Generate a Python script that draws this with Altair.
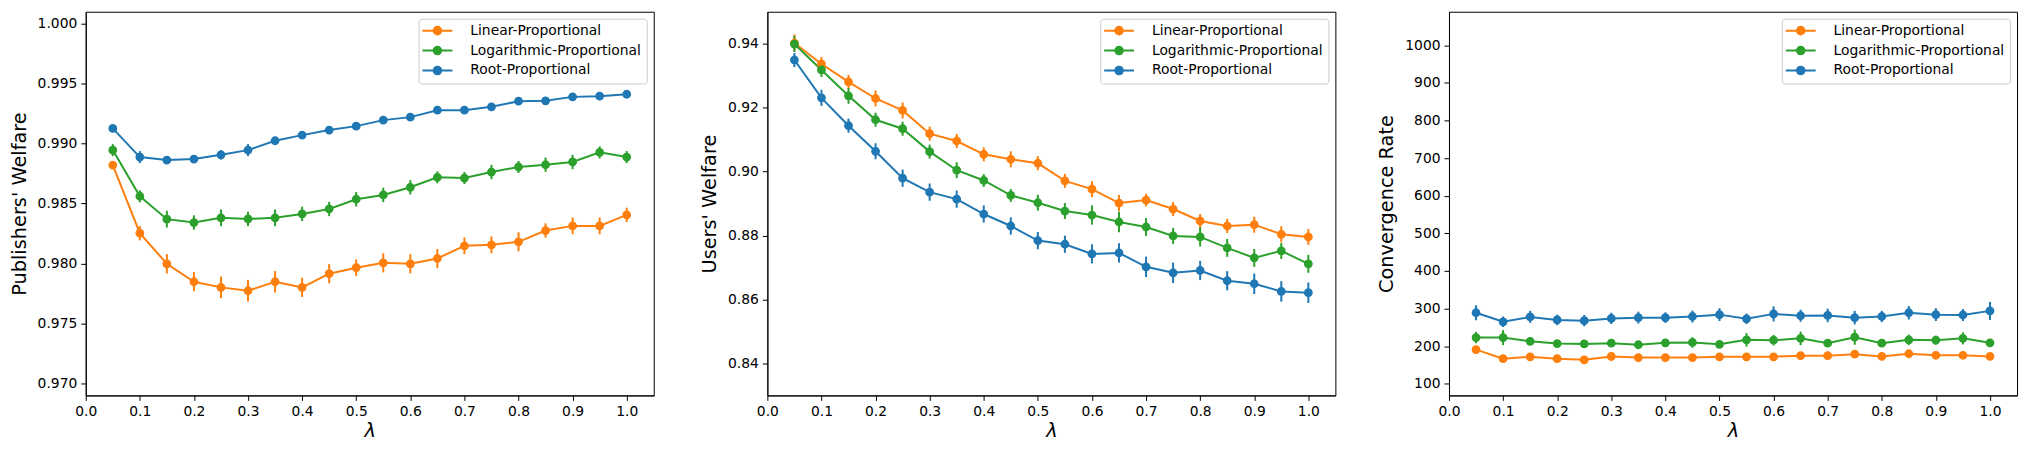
import altair as alt
import pandas as pd

lam = [0.05, 0.10, 0.15, 0.20, 0.25, 0.30, 0.35, 0.40, 0.45, 0.50,
       0.55, 0.60, 0.65, 0.70, 0.75, 0.80, 0.85, 0.90, 0.95, 1.00]
x_ticks = [0.0, 0.1, 0.2, 0.3, 0.4, 0.5, 0.6, 0.7, 0.8, 0.9, 1.0]
methods = ["Linear-Proportional", "Logarithmic-Proportional", "Root-Proportional"]
colors = ["#ff7f0e", "#2ca02c", "#1f77b4"]

# Panel 1: Publishers' Welfare
pub_linear = [0.98821, 0.98253, 0.97998, 0.97848, 0.97801, 0.97773, 0.97848, 0.97801, 0.97915, 0.97965,
              0.98006, 0.97998, 0.98042, 0.98148, 0.98156, 0.98181, 0.98275, 0.98314, 0.98314, 0.98406]
pub_log = [0.98946, 0.98561, 0.98370, 0.98342, 0.98381, 0.98372, 0.98381, 0.98414, 0.98455, 0.98536,
           0.98572, 0.98636, 0.98719, 0.98713, 0.98763, 0.98805, 0.98824, 0.98847, 0.98927, 0.98888]
pub_root = [0.99127, 0.98888, 0.98863, 0.98871, 0.98907, 0.98946, 0.99024, 0.99071, 0.99113, 0.99146,
            0.99196, 0.99221, 0.99279, 0.99279, 0.99307, 0.99354, 0.99357, 0.99390, 0.99396, 0.99412]
pub_linear_err = [0.0002, 0.0006, 0.0008, 0.0008, 0.0009, 0.0009, 0.0009, 0.0008, 0.0008, 0.0007,
                  0.0008, 0.0008, 0.0008, 0.0007, 0.0007, 0.0008, 0.0006, 0.0007, 0.0007, 0.0006]
pub_log_err = [0.0005, 0.0005, 0.0007, 0.0006, 0.0007, 0.0006, 0.0007, 0.0006, 0.0006, 0.0006,
               0.0006, 0.0006, 0.0005, 0.0005, 0.0006, 0.0005, 0.0006, 0.0006, 0.0005, 0.0005]
pub_root_err = [0.0002, 0.0005, 0.0003, 0.0003, 0.0004, 0.0005, 0.0003, 0.0003, 0.0003, 0.0003,
                0.0003, 0.0003, 0.0003, 0.0003, 0.0003, 0.0003, 0.0003, 0.0003, 0.0003, 0.0003]

# Panel 2: Users' Welfare
usr_linear = [0.9402, 0.93367, 0.92806, 0.92287, 0.91913, 0.91186, 0.90957, 0.90542, 0.90386, 0.90262,
              0.89711, 0.89452, 0.89016, 0.89109, 0.88829, 0.88455, 0.88299, 0.88341, 0.88040, 0.87957]
usr_log = [0.9399, 0.9318, 0.9237, 0.91622, 0.91342, 0.90625, 0.90044, 0.89722, 0.89255, 0.89026,
           0.88767, 0.88642, 0.88424, 0.88268, 0.87988, 0.87957, 0.87614, 0.87302, 0.87520, 0.87115]
usr_root = [0.93491, 0.92307, 0.91435, 0.90636, 0.89794, 0.89358, 0.89140, 0.88673, 0.88299, 0.87842,
            0.87728, 0.87427, 0.87458, 0.87022, 0.86835, 0.86908, 0.86586, 0.86492, 0.86253, 0.86212]
usr_linear_err = [0.0027, 0.0022, 0.0022, 0.0025, 0.0025, 0.0022, 0.0022, 0.0022, 0.0025, 0.0022,
                  0.0022, 0.0025, 0.0025, 0.0020, 0.0022, 0.0022, 0.0022, 0.0025, 0.0025, 0.0025]
usr_log_err = [0.0025, 0.0022, 0.0025, 0.0022, 0.0022, 0.0022, 0.0025, 0.0020, 0.0020, 0.0025,
               0.0025, 0.0030, 0.0032, 0.0028, 0.0025, 0.0030, 0.0028, 0.0028, 0.0025, 0.0028]
usr_root_err = [0.0022, 0.0025, 0.0022, 0.0025, 0.0027, 0.0027, 0.0027, 0.0027, 0.0027, 0.0027,
                0.0027, 0.0030, 0.0030, 0.0032, 0.0032, 0.0030, 0.0030, 0.0032, 0.0032, 0.0032]

# Panel 3: Convergence Rate
cr_linear = [191, 167, 172, 167, 164, 173, 170, 170, 170, 172,
             172, 172, 175, 175, 179, 173, 180, 176, 176, 173]
cr_log = [223, 223, 213, 207, 206, 208, 204, 209, 210, 205,
          217, 216, 221, 208, 224, 208, 217, 216, 221, 209]
cr_root = [289, 265, 278, 270, 268, 274, 276, 276, 279, 284,
           273, 286, 281, 282, 276, 279, 289, 284, 283, 294]
cr_linear_err = [8, 6, 6, 6, 8, 12, 6, 6, 6, 6, 6, 6, 6, 6, 6, 6, 6, 8, 10, 6]
cr_log_err = [15, 20, 10, 8, 10, 10, 8, 10, 14, 10, 18, 14, 18, 10, 20, 10, 14, 12, 16, 10]
cr_root_err = [20, 14, 16, 14, 15, 15, 16, 14, 16, 17, 14, 20, 16, 18, 18, 15, 18, 17, 16, 24]

LEGEND_PATH = "M-3,0L3,0M-0.76,0A0.76,0.76,0,1,0,0.76,0A0.76,0.76,0,1,0,-0.76,0Z"


def panel(series, errs, ydom, yvals, yfmt, ytitle):
    rows = []
    for m, vals, es in zip(methods, series, errs):
        for x, v, e in zip(lam, vals, es):
            rows.append({"lam": x, "value": v, "lo": v - e, "hi": v + e, "method": m})
    df = pd.DataFrame(rows)
    base = alt.Chart(df)
    xaxis = alt.Axis(values=x_ticks, format=".1f", title="λ", titleFontStyle="italic",
                     labelFlush=False)
    xscale = alt.Scale(domain=[0, 1.05], nice=False, zero=False)
    yaxis = alt.Axis(values=yvals, format=yfmt, title=ytitle, labelFlush=False)
    yscale = alt.Scale(domain=ydom, nice=False, zero=False)
    cscale = alt.Scale(domain=methods, range=colors)
    legend = alt.Legend(
        title=None, orient="top-right", offset=7,
        symbolType=LEGEND_PATH, symbolSize=100, symbolStrokeWidth=2, symbolOffset=7,
        labelFontSize=13.9, labelFont="DejaVu Sans", labelColor="black", labelLimit=0,
        fillColor="rgba(255,255,255,0.8)", strokeColor="#cccccc", cornerRadius=3,
        padding=5, rowPadding=4, labelOffset=26,
    )
    rules = base.mark_rule(strokeWidth=2).encode(
        x=alt.X("lam:Q", scale=xscale, axis=xaxis),
        y=alt.Y("lo:Q", scale=yscale, axis=yaxis),
        y2="hi:Q",
        color=alt.Color("method:N", scale=cscale, legend=None),
    )
    line = base.mark_line(strokeWidth=2).encode(
        x=alt.X("lam:Q", scale=xscale, axis=xaxis),
        y=alt.Y("value:Q", scale=yscale, axis=yaxis),
        color=alt.Color("method:N", scale=cscale, legend=None),
    )
    pts = base.mark_point(filled=True, size=55, opacity=1, strokeWidth=1.4).encode(
        x=alt.X("lam:Q", scale=xscale, axis=xaxis),
        y=alt.Y("value:Q", scale=yscale, axis=yaxis),
        fill=alt.Fill("method:N", scale=cscale, legend=legend),
        stroke=alt.Stroke("method:N", scale=cscale, legend=legend),
    )
    return alt.layer(rules, line, pts).properties(width=570, height=385)


p1 = panel([pub_linear, pub_log, pub_root], [pub_linear_err, pub_log_err, pub_root_err],
           [0.969, 1.001], [0.970, 0.975, 0.980, 0.985, 0.990, 0.995, 1.000], ".3f",
           "Publishers' Welfare")
p2 = panel([usr_linear, usr_log, usr_root], [usr_linear_err, usr_log_err, usr_root_err],
           [0.83, 0.95], [0.84, 0.86, 0.88, 0.90, 0.92, 0.94], ".2f",
           "Users' Welfare")
p3 = panel([cr_linear, cr_log, cr_root], [cr_linear_err, cr_log_err, cr_root_err],
           [69.3, 1089], [100, 200, 300, 400, 500, 600, 700, 800, 900, 1000], "d",
           "Convergence Rate")

chart = (
    alt.hconcat(p1, p2, p3, spacing=114, bounds="flush")
    .resolve_legend(fill="independent", stroke="independent")
    .properties(padding={"left": 0, "top": 2, "right": 5, "bottom": 5})
    .configure_view(stroke="black", strokeWidth=1)
    .configure_axis(
        grid=False, domainColor="black", tickColor="black", tickSize=5, tickWidth=1,
        labelColor="black", labelFont="DejaVu Sans", labelFontSize=13.9, labelPadding=4,
        titleColor="black", titleFont="DejaVu Sans", titleFontSize=19.4,
        titleFontWeight="normal", titlePadding=8,
    )
    .configure_axisX(titlePadding=3)
)

chart.save("out.html", embed_options={"renderer": "svg", "actions": False})
